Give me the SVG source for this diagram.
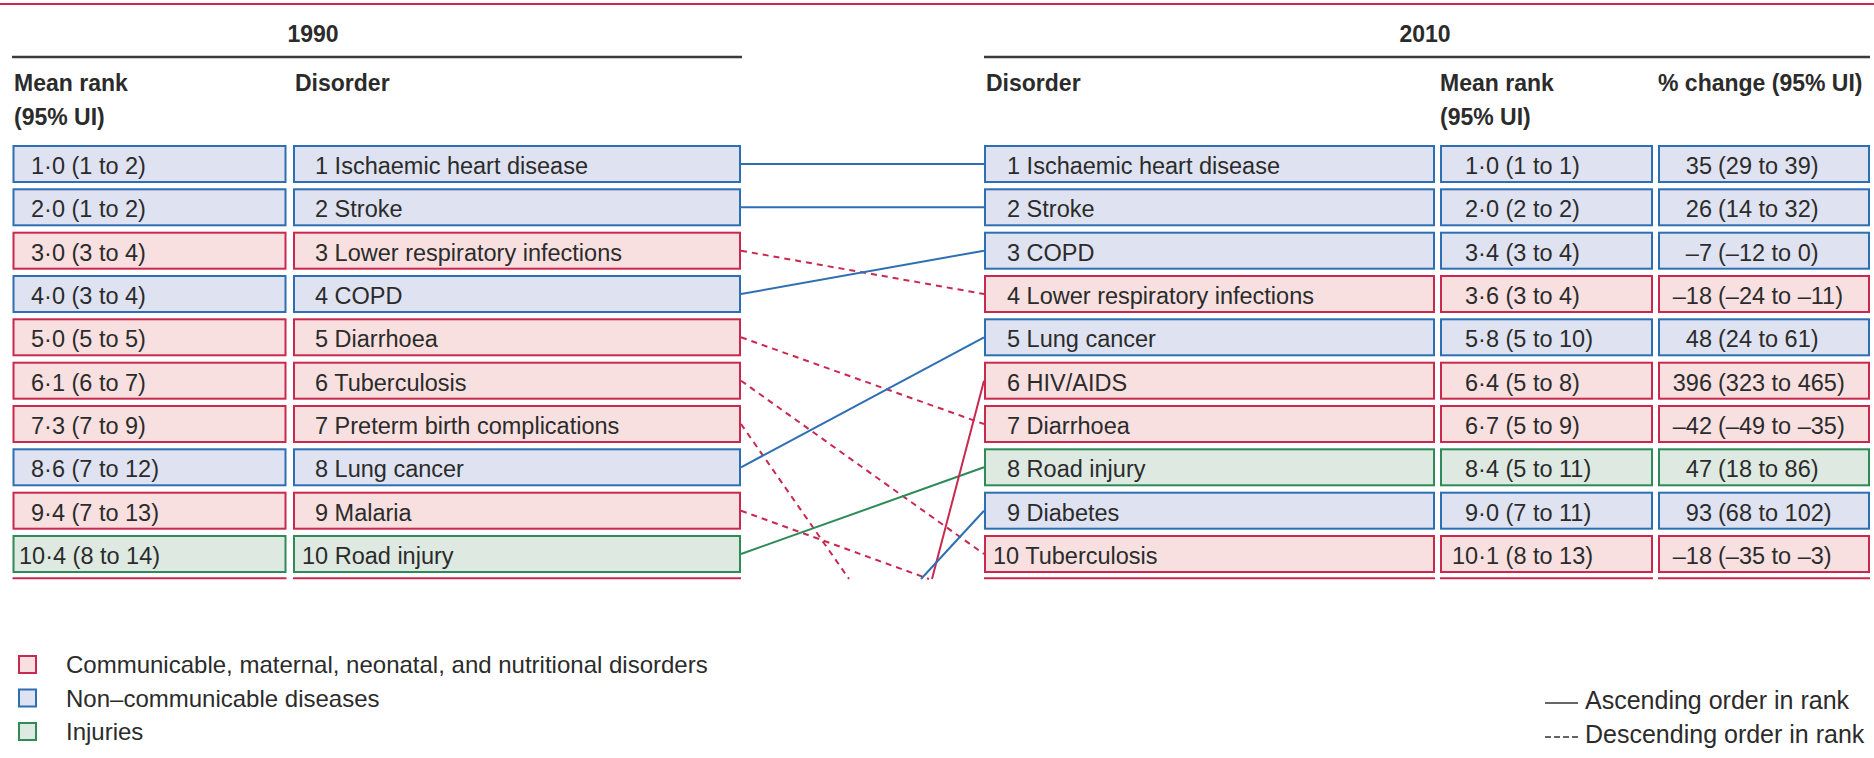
<svg xmlns="http://www.w3.org/2000/svg" width="1874" height="758" viewBox="0 0 1874 758">
<style>
.t{font-family:"Liberation Sans",Arial,sans-serif;font-size:23.5px;fill:#2b2b2b}
.h{font-weight:bold;font-size:23px}
.lg{font-size:24px}
.lr{font-size:25px}
.e{text-anchor:end}
.m{text-anchor:middle}
rect.b{fill:#dfe2f0;stroke:#2e6fb3;stroke-width:2}
rect.r{fill:#f7e0df;stroke:#c9284f;stroke-width:2}
rect.g{fill:#dde9e1;stroke:#2e8a57;stroke-width:2}
.c line{stroke-width:2;fill:none}
.cb{stroke:#2e6fb3}
.cr{stroke:#c9284f}
.cg{stroke:#2e8a57}
.d{stroke-dasharray:6 5}
</style>
<rect x="0" y="0" width="1874" height="758" fill="#ffffff"/>
<line x1="0" y1="4" x2="1874" y2="4" stroke="#c9284f" stroke-width="2"/>

<g id="header-1990">
<text class="t h m" x="313" y="42">1990</text>
<line x1="12" y1="57" x2="742" y2="57" stroke="#3a3a3a" stroke-width="2.5"/>
<text class="t h" x="14" y="91">Mean rank</text>
<text class="t h" x="14" y="125">(95% UI)</text>
<text class="t h" x="295" y="91">Disorder</text>
</g>
<g id="header-2010">
<text class="t h m" x="1425" y="42">2010</text>
<line x1="984" y1="57" x2="1870" y2="57" stroke="#3a3a3a" stroke-width="2.5"/>
<text class="t h" x="986" y="91">Disorder</text>
<text class="t h" x="1440" y="91">Mean rank</text>
<text class="t h" x="1440" y="125">(95% UI)</text>
<text class="t h" x="1658" y="91">% change (95% UI)</text>
</g>

<g id="connectors" class="c">
<line class="cb" x1="741" y1="164" x2="984" y2="164"/>
<line class="cb" x1="741" y1="207.3" x2="984" y2="207.3"/>
<line class="cr d" x1="741" y1="250.7" x2="984" y2="294"/>
<line class="cb" x1="741" y1="294" x2="984" y2="250.7"/>
<line class="cr d" x1="741" y1="337.3" x2="984" y2="424"/>
<line class="cr d" x1="741" y1="380.7" x2="984" y2="554"/>
<line class="cr d" x1="741" y1="424" x2="849" y2="579"/>
<line class="cb" x1="741" y1="467.3" x2="984" y2="337.3"/>
<line class="cr d" x1="741" y1="510.7" x2="929" y2="579"/>
<line class="cg" x1="741" y1="554" x2="984" y2="467.3"/>
<line class="cr" x1="932" y1="579" x2="984" y2="380.7"/>
<line class="cb" x1="921" y1="579" x2="984" y2="510.7"/>
</g>

<g id="n1990-1"><rect class="b" x="13.5" y="146" width="272" height="36"/><text class="t" x="31" y="174">1·0 (1 to 2)</text><rect class="b" x="294" y="146" width="446" height="36"/><text class="t" x="315" y="174">1 Ischaemic heart disease</text></g>
<g id="n1990-2"><rect class="b" x="13.5" y="189.3" width="272" height="36"/><text class="t" x="31" y="217.3">2·0 (1 to 2)</text><rect class="b" x="294" y="189.3" width="446" height="36"/><text class="t" x="315" y="217.3">2 Stroke</text></g>
<g id="n1990-3"><rect class="r" x="13.5" y="232.7" width="272" height="36"/><text class="t" x="31" y="260.7">3·0 (3 to 4)</text><rect class="r" x="294" y="232.7" width="446" height="36"/><text class="t" x="315" y="260.7">3 Lower respiratory infections</text></g>
<g id="n1990-4"><rect class="b" x="13.5" y="276" width="272" height="36"/><text class="t" x="31" y="304">4·0 (3 to 4)</text><rect class="b" x="294" y="276" width="446" height="36"/><text class="t" x="315" y="304">4 COPD</text></g>
<g id="n1990-5"><rect class="r" x="13.5" y="319.3" width="272" height="36"/><text class="t" x="31" y="347.3">5·0 (5 to 5)</text><rect class="r" x="294" y="319.3" width="446" height="36"/><text class="t" x="315" y="347.3">5 Diarrhoea</text></g>
<g id="n1990-6"><rect class="r" x="13.5" y="362.7" width="272" height="36"/><text class="t" x="31" y="390.7">6·1 (6 to 7)</text><rect class="r" x="294" y="362.7" width="446" height="36"/><text class="t" x="315" y="390.7">6 Tuberculosis</text></g>
<g id="n1990-7"><rect class="r" x="13.5" y="406" width="272" height="36"/><text class="t" x="31" y="434">7·3 (7 to 9)</text><rect class="r" x="294" y="406" width="446" height="36"/><text class="t" x="315" y="434">7 Preterm birth complications</text></g>
<g id="n1990-8"><rect class="b" x="13.5" y="449.3" width="272" height="36"/><text class="t" x="31" y="477.3">8·6 (7 to 12)</text><rect class="b" x="294" y="449.3" width="446" height="36"/><text class="t" x="315" y="477.3">8 Lung cancer</text></g>
<g id="n1990-9"><rect class="r" x="13.5" y="492.7" width="272" height="36"/><text class="t" x="31" y="520.7">9·4 (7 to 13)</text><rect class="r" x="294" y="492.7" width="446" height="36"/><text class="t" x="315" y="520.7">9 Malaria</text></g>
<g id="n1990-10"><rect class="g" x="13.5" y="536" width="272" height="36"/><text class="t" x="19" y="564">10·4 (8 to 14)</text><rect class="g" x="294" y="536" width="446" height="36"/><text class="t" x="302" y="564">10 Road injury</text></g>

<g id="n2010-1"><rect class="b" x="985" y="146" width="449" height="36"/><text class="t" x="1007" y="174">1 Ischaemic heart disease</text><rect class="b" x="1441" y="146" width="211" height="36"/><text class="t" x="1465" y="174">1·0 (1 to 1)</text><rect class="b" x="1659" y="146" width="210" height="36"/><text class="t e" x="1712" y="174">35</text><text class="t" x="1718" y="174">(29 to 39)</text></g>
<g id="n2010-2"><rect class="b" x="985" y="189.3" width="449" height="36"/><text class="t" x="1007" y="217.3">2 Stroke</text><rect class="b" x="1441" y="189.3" width="211" height="36"/><text class="t" x="1465" y="217.3">2·0 (2 to 2)</text><rect class="b" x="1659" y="189.3" width="210" height="36"/><text class="t e" x="1712" y="217.3">26</text><text class="t" x="1718" y="217.3">(14 to 32)</text></g>
<g id="n2010-3"><rect class="b" x="985" y="232.7" width="449" height="36"/><text class="t" x="1007" y="260.7">3 COPD</text><rect class="b" x="1441" y="232.7" width="211" height="36"/><text class="t" x="1465" y="260.7">3·4 (3 to 4)</text><rect class="b" x="1659" y="232.7" width="210" height="36"/><text class="t e" x="1712" y="260.7">–7</text><text class="t" x="1718" y="260.7">(–12 to 0)</text></g>
<g id="n2010-4"><rect class="r" x="985" y="276" width="449" height="36"/><text class="t" x="1007" y="304">4 Lower respiratory infections</text><rect class="r" x="1441" y="276" width="211" height="36"/><text class="t" x="1465" y="304">3·6 (3 to 4)</text><rect class="r" x="1659" y="276" width="210" height="36"/><text class="t e" x="1712" y="304">–18</text><text class="t" x="1718" y="304">(–24 to –11)</text></g>
<g id="n2010-5"><rect class="b" x="985" y="319.3" width="449" height="36"/><text class="t" x="1007" y="347.3">5 Lung cancer</text><rect class="b" x="1441" y="319.3" width="211" height="36"/><text class="t" x="1465" y="347.3">5·8 (5 to 10)</text><rect class="b" x="1659" y="319.3" width="210" height="36"/><text class="t e" x="1712" y="347.3">48</text><text class="t" x="1718" y="347.3">(24 to 61)</text></g>
<g id="n2010-6"><rect class="r" x="985" y="362.7" width="449" height="36"/><text class="t" x="1007" y="390.7">6 HIV/AIDS</text><rect class="r" x="1441" y="362.7" width="211" height="36"/><text class="t" x="1465" y="390.7">6·4 (5 to 8)</text><rect class="r" x="1659" y="362.7" width="210" height="36"/><text class="t e" x="1712" y="390.7">396</text><text class="t" x="1718" y="390.7">(323 to 465)</text></g>
<g id="n2010-7"><rect class="r" x="985" y="406" width="449" height="36"/><text class="t" x="1007" y="434">7 Diarrhoea</text><rect class="r" x="1441" y="406" width="211" height="36"/><text class="t" x="1465" y="434">6·7 (5 to 9)</text><rect class="r" x="1659" y="406" width="210" height="36"/><text class="t e" x="1712" y="434">–42</text><text class="t" x="1718" y="434">(–49 to –35)</text></g>
<g id="n2010-8"><rect class="g" x="985" y="449.3" width="449" height="36"/><text class="t" x="1007" y="477.3">8 Road injury</text><rect class="g" x="1441" y="449.3" width="211" height="36"/><text class="t" x="1465" y="477.3">8·4 (5 to 11)</text><rect class="g" x="1659" y="449.3" width="210" height="36"/><text class="t e" x="1712" y="477.3">47</text><text class="t" x="1718" y="477.3">(18 to 86)</text></g>
<g id="n2010-9"><rect class="b" x="985" y="492.7" width="449" height="36"/><text class="t" x="1007" y="520.7">9 Diabetes</text><rect class="b" x="1441" y="492.7" width="211" height="36"/><text class="t" x="1465" y="520.7">9·0 (7 to 11)</text><rect class="b" x="1659" y="492.7" width="210" height="36"/><text class="t e" x="1712" y="520.7">93</text><text class="t" x="1718" y="520.7">(68 to 102)</text></g>
<g id="n2010-10"><rect class="r" x="985" y="536" width="449" height="36"/><text class="t" x="993" y="564">10 Tuberculosis</text><rect class="r" x="1441" y="536" width="211" height="36"/><text class="t" x="1452" y="564">10·1 (8 to 13)</text><rect class="r" x="1659" y="536" width="210" height="36"/><text class="t e" x="1712" y="564">–18</text><text class="t" x="1718" y="564">(–35 to –3)</text></g>

<g id="row11-edges" stroke="#c9284f" stroke-width="2">
<line x1="12.5" y1="578.3" x2="286.5" y2="578.3"/>
<line x1="293" y1="578.3" x2="741" y2="578.3"/>
<line x1="984" y1="578.3" x2="1435" y2="578.3"/>
<line x1="1440" y1="578.3" x2="1653" y2="578.3"/>
<line x1="1658" y1="578.3" x2="1870" y2="578.3"/>
</g>

<g id="legend-categories">
<rect class="r" x="19" y="656" width="17" height="17"/>
<text class="t lg" x="66" y="673">Communicable, maternal, neonatal, and nutritional disorders</text>
<rect class="b" x="19" y="689.5" width="17" height="17"/>
<text class="t lg" x="66" y="707">Non–communicable diseases</text>
<rect class="g" x="19" y="723" width="17" height="17"/>
<text class="t lg" x="66" y="740">Injuries</text>
</g>
<g id="legend-lines">
<line x1="1545" y1="703" x2="1578" y2="703" stroke="#333" stroke-width="1.6"/>
<text class="t lr" x="1585" y="709">Ascending order in rank</text>
<line x1="1545" y1="737" x2="1578" y2="737" stroke="#333" stroke-width="1.6" stroke-dasharray="6 3"/>
<text class="t lr" x="1585" y="743">Descending order in rank</text>
</g>
</svg>
